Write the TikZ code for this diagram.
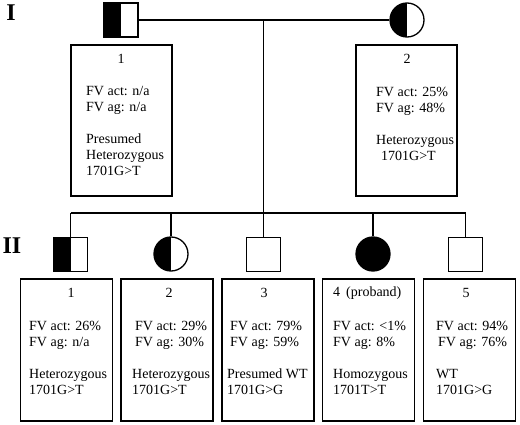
\documentclass[tikz,border=0pt]{standalone}
\usepackage{fontspec}
\setmainfont{Liberation Serif}
\usetikzlibrary{positioning}

\begin{document}
\begin{tikzpicture}[x=1pt, y=-1pt,
    male/.style={draw, line width=1.3pt, minimum size=34pt, inner sep=0pt},
    female/.style={draw, circle, line width=1.3pt, minimum size=34pt, inner sep=0pt},
    half/.style={path picture={\fill (path picture bounding box.south west) rectangle (path picture bounding box.north);}},
    full/.style={fill=black},
    infobox/.style={draw, line width=1.3pt, inner sep=0pt},
    txt/.style={font=\fontsize{14}{16}\selectfont, align=left, inner sep=0pt, anchor=north west},
    num/.style={font=\fontsize{14}{16}\selectfont, inner sep=0pt},
    gen/.style={font=\fontsize{24}{24}\selectfont\bfseries, inner sep=0pt},
    line/.style={line width=1.2pt}
]
\useasboundingbox (0,0) rectangle (520,425);

% generation I
\node[gen] (genI) at (11,13) {I};
\node[male, half] (I1) at (121,20) {};
\node[female, half] (I2) at (407,20) {};
\node[infobox, minimum width=101pt, minimum height=151pt] (I1box) at (121.5,120.5) {};
\node[infobox, minimum width=101pt, minimum height=151pt] (I2box) at (406.5,120.5) {};
\node[num] (I1num) at (121,59) {1};
\node[num] (I2num) at (407,59) {2};
\node[txt] (I1txt) at (86,86.5) {FV act: n/a\\FV ag: n/a\\[16pt]Presumed\\Heterozygous\\1701G>T};
\node[txt] (I2txt) at (376,86.5) {FV act: 25\%\\FV ag: 48\%\\[16pt]Heterozygous\\\hspace{5pt}1701G>T};

% generation II
\node[gen] (genII) at (12,246) {II};
\node[male, half] (II1) at (70.5,254.5) {};
\node[female, half] (II2) at (171,254) {};
\node[male] (II3) at (263.5,254.5) {};
\node[female, full] (II4) at (373,254) {};
\node[male] (II5) at (465.5,254.5) {};

\node[infobox, minimum width=92pt, minimum height=142pt] (II1box) at (66.5,350) {};
\node[infobox, minimum width=92pt, minimum height=142pt] (II2box) at (167,350) {};
\node[infobox, minimum width=92pt, minimum height=142pt] (II3box) at (268,350) {};
\node[infobox, minimum width=92pt, minimum height=142pt] (II4box) at (368.5,350) {};
\node[infobox, minimum width=92pt, minimum height=142pt] (II5box) at (469.5,350) {};

\node[num] (II1num) at (71,293) {1};
\node[num] (II2num) at (169,293) {2};
\node[num] (II3num) at (264,293) {3};
\node[num, anchor=west] (II4num) at (333,293) {4\hspace{6pt}(proband)};
\node[num] (II5num) at (466,293) {5};

\node[txt] (II1txt) at (29,320.5) {FV act: 26\%\\FV ag: n/a\\[16pt]Heterozygous\\1701G>T};
\node[txt] (II2txt) at (132,320.5) {\hspace{3pt}FV act: 29\%\\\hspace{3pt}FV ag: 30\%\\[16pt]Heterozygous\\1701G>T};
\node[txt] (II3txt) at (227,320.5) {\hspace{3pt}FV act: 79\%\\\hspace{3pt}FV ag: 59\%\\[16pt]Presumed WT\\1701G>G};
\node[txt] (II4txt) at (333,320.5) {FV act: <1\%\\FV ag: 8\%\\[16pt]Homozygous\\1701T>T};
\node[txt] (II5txt) at (436,320.5) {FV act: 94\%\\\hspace{2pt}FV ag: 76\%\\[16pt]WT\\1701G>G};

% connectors
\coordinate (mate) at (263.5,20);
\coordinate (sib) at (263.5,213);
\draw[line] (I1) -- (I2);
\draw[line] (mate) -- (sib);
\draw[line] (II1 |- sib) -- (II5 |- sib);
\foreach \k in {1,...,5}
    \draw[line] (II\k |- sib) -- (II\k);
\end{tikzpicture}
\end{document}
